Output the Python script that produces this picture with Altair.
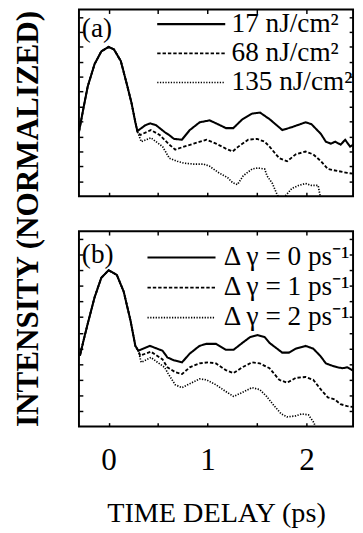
import altair as alt
import pandas as pd

# ---------------- data (time delay in ps, normalized intensity) ----------------
rise_a_t = [-0.30, -0.25, -0.211, -0.142, -0.074, 0.0, 0.054, 0.123, 0.182, 0.231, 0.270, 0.290]
rise_a_v = [0.43, 0.605, 0.736, 0.885, 0.970, 1.0, 0.983, 0.905, 0.755, 0.625, 0.495, 0.436]

a_solid_t = [0.37, 0.42, 0.48, 0.565, 0.61, 0.66, 0.74, 0.82, 0.92, 1.02, 1.105, 1.185, 1.26, 1.35,
             1.45, 1.53, 1.63, 1.755, 1.85, 1.99, 2.05, 2.145, 2.195, 2.245, 2.29, 2.345, 2.39, 2.44, 2.49]
a_solid_v = [0.475, 0.488, 0.475, 0.43, 0.41, 0.384, 0.378, 0.443, 0.495, 0.508, 0.482, 0.456, 0.456, 0.514,
             0.553, 0.56, 0.514, 0.443, 0.462, 0.495, 0.482, 0.417, 0.365, 0.352, 0.365, 0.345, 0.378, 0.332, 0.352]

a_dash_t = [0.32, 0.427, 0.516, 0.614, 0.673, 0.761, 0.86, 0.987, 1.085, 1.184, 1.252, 1.311, 1.41,
            1.5, 1.577, 1.626, 1.724, 1.803, 1.891, 1.99, 2.068, 2.146, 2.215, 2.313, 2.411, 2.48]
a_dash_v = [0.41, 0.443, 0.41, 0.345, 0.312, 0.332, 0.352, 0.378, 0.352, 0.319, 0.299, 0.332, 0.378,
            0.384, 0.365, 0.332, 0.254, 0.234, 0.28, 0.299, 0.28, 0.234, 0.182, 0.169, 0.156, 0.15]

a_dot_t = [0.329, 0.427, 0.545, 0.614, 0.693, 0.761, 0.86, 0.958, 1.017, 1.115, 1.203, 1.252, 1.302,
           1.36, 1.449, 1.508, 1.577, 1.60, 1.655, 1.705, 1.734, 1.793, 1.852, 1.92, 1.99, 2.048,
           2.117, 2.136, 2.146]
a_dot_v = [0.365, 0.391, 0.332, 0.254, 0.234, 0.221, 0.215, 0.215, 0.202, 0.156, 0.124, 0.091, 0.078,
           0.137, 0.182, 0.189, 0.182, 0.137, 0.085, 0.007, -0.02, 0.007, 0.052, 0.072, 0.085, 0.072,
           0.072, 0.007, -0.09]

rise_b_t = [-0.29, -0.25, -0.211, -0.142, -0.074, 0.0, 0.083, 0.152, 0.221, 0.27, 0.30]
rise_b_v = [0.454, 0.56, 0.659, 0.827, 0.952, 1.0, 0.970, 0.864, 0.678, 0.516, 0.485]

b_solid_t = [0.417, 0.545, 0.594, 0.663, 0.742, 0.82, 0.918, 0.987, 1.085, 1.184, 1.262, 1.351, 1.429,
             1.508, 1.577, 1.626, 1.754, 1.822, 1.891, 1.99, 2.068, 2.136, 2.196, 2.245, 2.313, 2.362,
             2.411, 2.461, 2.49]
b_solid_v = [0.516, 0.485, 0.442, 0.423, 0.411, 0.467, 0.516, 0.529, 0.529, 0.491, 0.491, 0.535, 0.572,
             0.585, 0.572, 0.535, 0.473, 0.473, 0.498, 0.516, 0.498, 0.454, 0.404, 0.392, 0.379, 0.373,
             0.379, 0.361, 0.379]

b_dash_t = [0.319, 0.427, 0.545, 0.594, 0.673, 0.742, 0.82, 0.918, 1.007, 1.085, 1.184, 1.262, 1.351,
            1.449, 1.528, 1.626, 1.724, 1.803, 1.891, 1.99, 2.068, 2.146, 2.215, 2.284, 2.343, 2.411, 2.48]
b_dash_v = [0.454, 0.479, 0.429, 0.379, 0.348, 0.336, 0.379, 0.404, 0.411, 0.404, 0.361, 0.342, 0.379,
            0.411, 0.404, 0.373, 0.299, 0.28, 0.311, 0.317, 0.299, 0.236, 0.187, 0.174, 0.143, 0.131, 0.124]

b_dot_t = [0.329, 0.427, 0.565, 0.60, 0.673, 0.742, 0.84, 0.918, 0.987, 1.085, 1.184, 1.262, 1.351,
           1.449, 1.528, 1.596, 1.675, 1.744, 1.803, 1.891, 1.95, 2.019, 2.068, 2.087, 2.107]
b_dot_v = [0.411, 0.442, 0.379, 0.34, 0.267, 0.249, 0.28, 0.305, 0.299, 0.267, 0.224, 0.193, 0.218,
           0.249, 0.236, 0.193, 0.131, 0.081, 0.062, 0.068, 0.081, 0.075, 0.031, 0.006, -0.04]

labels_a = ["17 nJ/cm²", "68 nJ/cm²", "135 nJ/cm²"]
labels_b = ["Δ γ = 0 ps⁻¹", "Δ γ = 1 ps⁻¹", "Δ γ = 2 ps⁻¹"]

x_tick_values = [0, 0.5, 1, 1.5, 2]
y_tick_values = [0.1, 0.2, 0.3, 0.4, 0.5, 0.6, 0.7, 0.8, 0.9, 1.0, 1.1, 1.2]

FONT = "Liberation Serif"


def make_df(rise_t, rise_v, tails, labels):
    frames = []
    for (tt, vv), lab in zip(tails, labels):
        frames.append(pd.DataFrame({"t": rise_t + tt, "v": rise_v + vv, "series": lab}))
    return pd.concat(frames, ignore_index=True)


df_a = make_df(rise_a_t, rise_a_v, [(a_solid_t, a_solid_v), (a_dash_t, a_dash_v), (a_dot_t, a_dot_v)], labels_a)
df_b = make_df(rise_b_t, rise_b_v, [(b_solid_t, b_solid_v), (b_dash_t, b_dash_v), (b_dot_t, b_dot_v)], labels_b)

dash_range = [[1, 0], [3.5, 2], [1.3, 1.5]]
width_range = [2.1, 1.7, 1.7]


def panel(df, labels, tag, height, legend_x, legend_y, row_pad, label_offset, tag_y, bottom):
    xs = alt.Scale(domain=[-0.3, 2.47], nice=False, zero=False)
    ys = alt.Scale(domain=[0, 1.25], nice=False, zero=False)
    common = dict(offset=-4, tickSize=4, tickWidth=1.5, tickColor="black", domain=False, grid=False)
    if bottom:
        ax_bottom = alt.Axis(orient="bottom", values=x_tick_values, labels=True,
                             labelExpr="datum.value % 1 == 0 ? format(datum.value, 'd') : ''",
                             labelFontSize=32, labelPadding=19, labelColor="black", labelFont=FONT,
                             title="TIME DELAY (ps)", titleFontSize=29, titleFontWeight="normal",
                             titlePadding=25, titleColor="black", titleFont=FONT, **common)
        ax_left = alt.Axis(orient="left", values=y_tick_values, labels=False, title=None, **common)
    else:
        ax_bottom = alt.Axis(orient="bottom", values=x_tick_values, labels=False, title=None, **common)
        ax_left = alt.Axis(orient="left", values=y_tick_values, labels=False,
                           title="INTENSITY (NORMALIZED)", titleX=-57, titleY=215,
                           titleFontSize=32, titleFontWeight="bold", titleBaseline="middle",
                           titleColor="black", titleFont=FONT, **common)
    ax_top = alt.Axis(orient="top", values=x_tick_values, labels=False, title=None, **common)
    ax_right = alt.Axis(orient="right", values=y_tick_values, labels=False, title=None, **common)

    leg = alt.Legend(orient="none", legendX=legend_x, legendY=legend_y, title=None,
                     symbolType="stroke", symbolSize=4900, symbolStrokeColor="black",
                     clipHeight=27,
                     labelFont=FONT, labelFontSize=28, labelColor="black", labelOffset=label_offset,
                     labelLimit=400, rowPadding=row_pad, padding=0)

    lines = alt.Chart(df).mark_line(clip=True, color="black").encode(
        x=alt.X("t:Q", scale=xs, axis=ax_bottom),
        y=alt.Y("v:Q", scale=ys, axis=ax_left),
        strokeDash=alt.StrokeDash("series:N", scale=alt.Scale(domain=labels, range=dash_range), legend=leg),
        strokeWidth=alt.StrokeWidth("series:N", scale=alt.Scale(domain=labels, range=width_range), legend=leg),
    )
    frame = alt.Chart(df).mark_line(clip=True, strokeOpacity=0).encode(
        x=alt.X("t:Q", scale=xs, axis=ax_top),
        y=alt.Y("v:Q", scale=ys, axis=ax_right),
    )
    tag_layer = alt.Chart(pd.DataFrame({"tag": [tag]})).mark_text(
        align="left", baseline="alphabetic", font=FONT, fontSize=28, color="black"
    ).encode(text="tag:N", x=alt.value(3), y=alt.value(tag_y))

    return alt.layer(lines, frame, tag_layer).resolve_axis(x="independent", y="independent").properties(
        width=282, height=height)


pa = panel(df_a, labels_a, "(a)", 192, 79, 1.5, 1, 5, 28, False)
pb = panel(df_b, labels_b, "(b)", 201, 69, 13.5, 2, 7, 33, True)

chart = alt.vconcat(pa, pb, spacing=36, bounds="flush").resolve_scale(
    strokeDash="independent", strokeWidth="independent"
).resolve_legend(
    strokeDash="independent", strokeWidth="independent"
).properties(
    padding={"left": 2, "top": -8, "right": 0, "bottom": 0}, background="white"
).configure_view(
    stroke="black", strokeWidth=2
)

chart.save("out.html", embed_options={"renderer": "svg", "actions": False})
